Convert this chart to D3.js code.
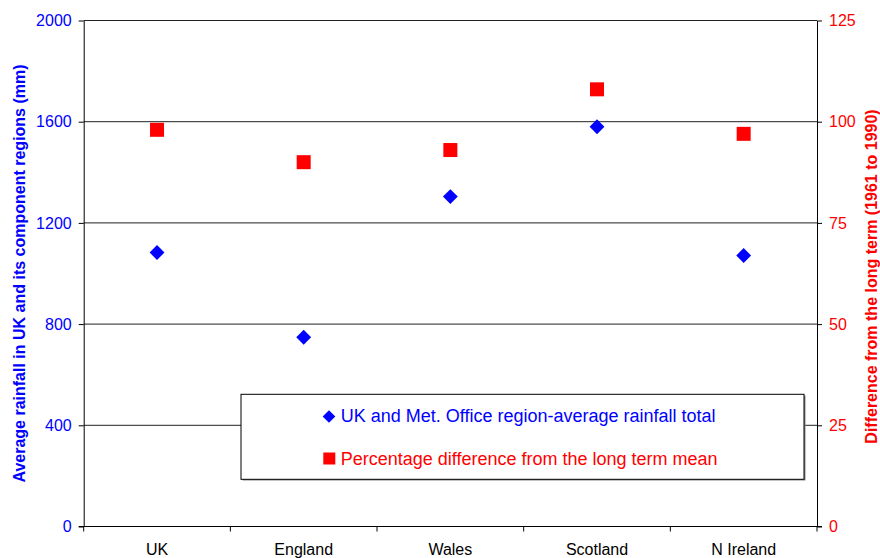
<!DOCTYPE html>
<html>
<head>
<meta charset="utf-8">
<script src="https://cdn.jsdelivr.net/npm/d3@7"></script>
<style>
  html, body { margin: 0; padding: 0; background: #fff; }
  svg { display: block; font-family: "Liberation Sans", Arial, Helvetica, sans-serif; }
</style>
</head>
<body>
<svg id="chart" width="880" height="558"></svg>
<script>
// Regions and their annual rainfall figures
const categories = ["UK", "England", "Wales", "Scotland", "N Ireland"];
const rainfall = [1083, 748, 1304, 1580, 1071];          // mm, left axis
const pctDiff = [98, 90, 93, 108, 97];                    // % of 1961-1990 mean, right axis
const leftTicks = [0, 400, 800, 1200, 1600, 2000];
const rightTicks = [0, 25, 50, 75, 100, 125];
const legendLabels = [
  "UK and Met. Office region-average rainfall total",
  "Percentage difference from the long term mean"
];

const BLUE = "#0000ff", RED = "#ff0000";
const plot = { left: 83.7, right: 817, top: 20.5, bottom: 526.5 };

const svg = d3.select("#chart");

const x = d3.scaleBand().domain(categories).range([plot.left, plot.right]);
const yL = d3.scaleLinear().domain([0, 2000]).range([plot.bottom, plot.top]);
const yR = d3.scaleLinear().domain([0, 125]).range([plot.bottom, plot.top]);
const cx = c => x(c) + x.bandwidth() / 2;
const fmt = d3.format("d");

// Horizontal gridlines on the rainfall scale
svg.append("g").selectAll("line").data(leftTicks.filter(t => t > 0)).join("line")
  .attr("x1", plot.left).attr("x2", plot.right)
  .attr("y1", d => yL(d)).attr("y2", d => yL(d))
  .attr("stroke", "#222").attr("stroke-width", 1);

// Left axis (rainfall, mm)
const gL = svg.append("g").attr("transform", `translate(${plot.left},0)`)
  .call(d3.axisLeft(yL).tickValues(leftTicks).tickFormat(fmt)
    .tickSize(5).tickPadding(7).tickSizeOuter(0));
gL.select(".domain").attr("stroke", "#000");
gL.selectAll(".tick line").attr("stroke", "#000");
gL.selectAll("text").attr("fill", BLUE).attr("font-size", 16).attr("font-family", "Liberation Sans, Arial, sans-serif");

// Right axis (percentage)
const gR = svg.append("g").attr("transform", `translate(${plot.right},0)`)
  .call(d3.axisRight(yR).tickValues(rightTicks).tickFormat(fmt)
    .tickSize(5).tickPadding(7).tickSizeOuter(0));
gR.select(".domain").attr("stroke", "#000");
gR.selectAll(".tick line").attr("stroke", "#000");
gR.selectAll("text").attr("fill", RED).attr("font-size", 16).attr("font-family", "Liberation Sans, Arial, sans-serif");

// Bottom axis: baseline, ticks at category boundaries, labels centred in each band
svg.append("line")
  .attr("x1", plot.left - 5).attr("x2", plot.right + 5)
  .attr("y1", plot.bottom).attr("y2", plot.bottom)
  .attr("stroke", "#000");
const bounds = categories.map(c => x(c)).concat([x(categories[categories.length - 1]) + x.bandwidth()]);
svg.append("g").selectAll("line").data(bounds).join("line")
  .attr("x1", d => d).attr("x2", d => d)
  .attr("y1", plot.bottom).attr("y2", plot.bottom + 5)
  .attr("stroke", "#000");
svg.append("g").selectAll("text").data(categories).join("text")
  .attr("x", d => cx(d)).attr("y", 554.5)
  .attr("text-anchor", "middle").attr("font-size", 16).attr("fill", "#000")
  .text(d => d);

// Axis titles
svg.append("text")
  .attr("transform", `translate(25,${(plot.top + plot.bottom) / 2}) rotate(-90)`)
  .attr("text-anchor", "middle").attr("font-size", 16).attr("font-weight", "bold")
  .attr("fill", BLUE)
  .text("Average rainfall in UK and its component regions (mm)");
svg.append("text")
  .attr("transform", `translate(876.5,276.5) rotate(-90)`)
  .attr("text-anchor", "middle").attr("font-size", 16).attr("font-weight", "bold")
  .attr("fill", RED)
  .text("Difference from the long term (1961 to 1990)");

// Rainfall markers (diamonds)
const diamond = d3.symbol().type(d3.symbolSquare).size(110);
svg.append("g").selectAll("path").data(categories).join("path")
  .attr("d", diamond)
  .attr("transform", (d, i) => `translate(${cx(d)},${yL(rainfall[i])}) rotate(45)`)
  .attr("fill", BLUE);

// Percentage markers (squares)
const sq = 14;
svg.append("g").selectAll("rect").data(categories).join("rect")
  .attr("x", d => cx(d) - sq / 2)
  .attr("y", (d, i) => yR(pctDiff[i]) - sq / 2)
  .attr("width", sq).attr("height", sq)
  .attr("fill", RED);

// Legend box with a soft drop shadow
const lg = svg.append("g");
lg.append("rect").attr("x", 242.5).attr("y", 395.5).attr("width", 563).attr("height", 85)
  .attr("fill", "#888");
lg.append("rect").attr("x", 241).attr("y", 394.3).attr("width", 563).attr("height", 85)
  .attr("fill", "#fff").attr("stroke", "#000").attr("stroke-width", 1);
lg.append("path")
  .attr("d", d3.symbol().type(d3.symbolSquare).size(80))
  .attr("transform", "translate(329,416.5) rotate(45)")
  .attr("fill", BLUE);
lg.append("rect").attr("x", 323.3).attr("y", 452.5).attr("width", 12).attr("height", 12)
  .attr("fill", RED);
lg.append("text").attr("x", 340.7).attr("y", 421.7).attr("font-size", 18)
  .attr("fill", BLUE).text(legendLabels[0]);
lg.append("text").attr("x", 340.7).attr("y", 465).attr("font-size", 18)
  .attr("fill", RED).text(legendLabels[1]);
</script>
</body>
</html>
